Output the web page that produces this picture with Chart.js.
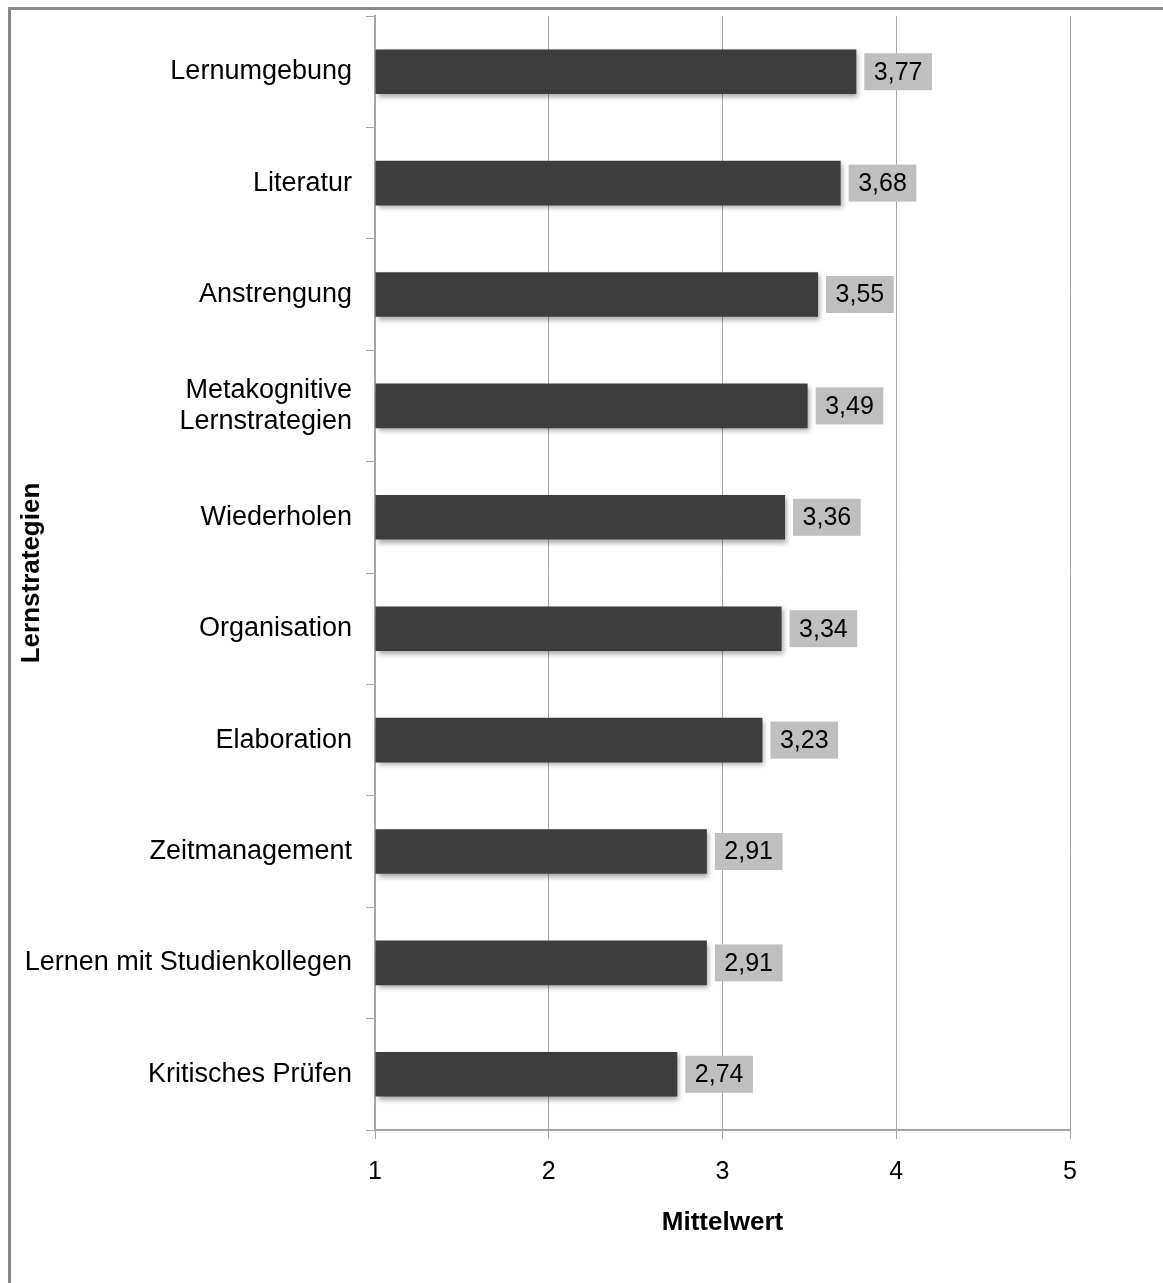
<!DOCTYPE html>
<html>
<head>
<meta charset="utf-8">
<script src="https://cdn.jsdelivr.net/npm/chart.js@4"></script>
<style>
  html, body { margin: 0; padding: 0; background: #fff; }
  #wrap { width: 1163px; height: 1283px; position: relative; }
</style>
</head>
<body>
<div id="wrap"><canvas id="chart"></canvas></div>
<script>
// Lernstrategien - Mittelwerte
const categories = [
    'Lernumgebung',
    'Literatur',
    'Anstrengung',
    ['Metakognitive', 'Lernstrategien'],
    'Wiederholen',
    'Organisation',
    'Elaboration',
    'Zeitmanagement',
    'Lernen mit Studienkollegen',
    'Kritisches Prüfen'
];
const means = [3.77, 3.68, 3.55, 3.49, 3.36, 3.34, 3.23, 2.91, 2.91, 2.74];
const xTicks = [1, 2, 3, 4, 5];

const FONT = 'Liberation Sans, Arial, sans-serif';
const GRID = '#a6a6a6';

// grey frame, only top and left edge are visible in the picture
const framePlugin = {
    id: 'frame',
    beforeDraw(chart) {
        const ctx = chart.ctx;
        ctx.save();
        ctx.strokeStyle = '#898989';
        ctx.lineWidth = 3;
        ctx.beginPath();
        ctx.moveTo(9.5, chart.height);
        ctx.lineTo(9.5, 8.5);
        ctx.lineTo(chart.width, 8.5);
        ctx.stroke();
        ctx.restore();
    }
};

// soft drop shadow under the bars
const shadowPlugin = {
    id: 'barShadow',
    beforeDatasetsDraw(chart) {
        const ctx = chart.ctx;
        ctx.save();
        ctx.shadowColor = 'rgba(0,0,0,0.35)';
        ctx.shadowBlur = 5;
        ctx.shadowOffsetX = 2;
        ctx.shadowOffsetY = 3;
    },
    afterDatasetsDraw(chart) {
        chart.ctx.restore();
    }
};

// value labels in grey boxes right of each bar
const valueLabels = {
    id: 'valueLabels',
    afterDatasetsDraw(chart) {
        const ctx = chart.ctx;
        const meta = chart.getDatasetMeta(0);
        ctx.save();
        ctx.font = '25px ' + FONT;
        ctx.textAlign = 'center';
        ctx.textBaseline = 'middle';
        meta.data.forEach((bar, i) => {
            const text = means[i].toFixed(2).replace('.', ',');
            const w = ctx.measureText(text).width + 19;
            const h = 37;
            const x = bar.x + 8;
            const y = bar.y - h / 2;
            ctx.fillStyle = '#bfbfbf';
            ctx.fillRect(x, y, w, h);
            ctx.fillStyle = '#000';
            ctx.fillText(text, x + w / 2, bar.y + 1);
        });
        ctx.restore();
    }
};

new Chart(document.getElementById('chart'), {
    type: 'bar',
    data: {
        labels: categories,
        datasets: [{
            data: means,
            base: 1,
            backgroundColor: '#3d3d3d',
            borderWidth: 0,
            barPercentage: 0.4,
            categoryPercentage: 1
        }]
    },
    options: {
        indexAxis: 'y',
        responsive: true,
        maintainAspectRatio: false,
        animation: false,
        layout: { padding: { top: 16, right: 93, bottom: 0, left: 0 } },
        plugins: {
            legend: { display: false },
            tooltip: { enabled: false }
        },
        scales: {
            x: {
                min: 1,
                max: 5,
                afterBuildTicks: (scale) => {
                    scale.ticks = xTicks.map(v => ({ value: v }));
                },
                afterFit: (scale) => { scale.height = 153; },
                grid: { color: GRID, lineWidth: 1, tickLength: 9 },
                border: { color: GRID, width: 2 },
                ticks: {
                    color: '#000',
                    padding: 18,
                    font: { family: FONT, size: 25 }
                },
                title: {
                    display: true,
                    text: 'Mittelwert',
                    color: '#000',
                    font: { family: FONT, size: 26, weight: 'bold' },
                    padding: { top: 0, bottom: 45 }
                }
            },
            y: {
                afterFit: (scale) => {
                    scale.width = 375;
                    scale.paddingTop = 0;
                    scale.paddingBottom = 0;
                },
                grid: {
                    offset: true,
                    drawOnChartArea: false,
                    drawTicks: true,
                    tickLength: 9,
                    color: GRID
                },
                border: { color: GRID, width: 2 },
                ticks: {
                    color: '#000',
                    padding: 14,
                    font: { family: FONT, size: 27, lineHeight: 1.15 }
                },
                title: {
                    display: true,
                    text: 'Lernstrategien',
                    color: '#000',
                    font: { family: FONT, size: 26, weight: 'bold' },
                    padding: { top: 16, bottom: 0 }
                }
            }
        }
    },
    plugins: [framePlugin, shadowPlugin, valueLabels]
});
</script>
</body>
</html>
